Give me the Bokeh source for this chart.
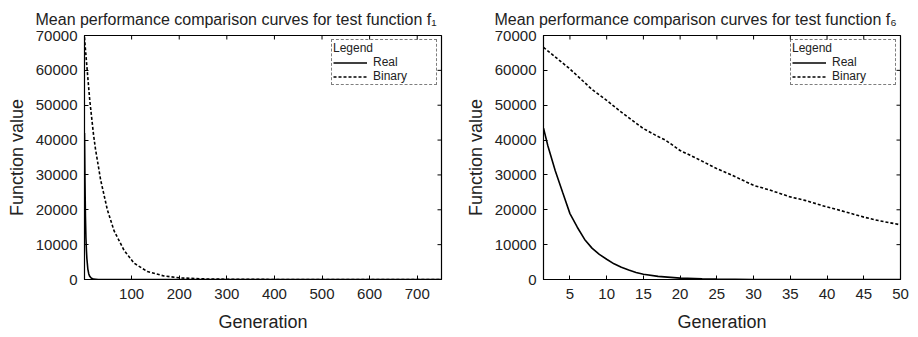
import math
from bokeh.plotting import figure
from bokeh.layouts import row
from bokeh.models import FixedTicker, Range1d, Legend, LegendItem
from bokeh.embed import file_html
from bokeh.resources import INLINE

# ---- data: f1 ----
f1_real_gen = [1, 2, 3, 4, 5, 6, 8, 10, 12, 15, 20, 30, 50, 100, 200, 400, 750]
f1_real_val = [42000, 28000, 18000, 12000, 8500, 6000, 3000, 1600, 900, 400, 100, 10, 0, 0, 0, 0, 0]
f1_bin_gen = [1, 3, 7, 12, 20, 24, 35, 49, 63, 84, 105, 133, 168, 203, 250, 300, 400, 500, 600, 750]
f1_bin_val = [69500, 66000, 59500, 51500, 41500, 37500, 28500, 20000, 14000, 8400, 4700, 2300, 1000, 450, 180, 70, 15, 3, 0, 0]

# ---- data: f6 ----
f6_real_gen = [1.4, 2, 3, 4, 5, 6, 7, 8, 9, 10, 11, 12, 13, 14, 15, 17, 20, 23, 25, 30, 35, 40, 45, 50]
f6_real_val = [43400, 38300, 31200, 25000, 18900, 15000, 11500, 9000, 7200, 5800, 4500, 3500, 2700, 2000, 1500, 900, 400, 180, 100, 20, 5, 0, 0, 0]
f6_bin_gen = [1.4, 5, 7, 8, 10, 12, 15, 17, 18, 20, 22, 25, 27, 30, 32, 35, 37, 40, 42, 45, 47, 50]
f6_bin_val = [66600, 60400, 56500, 54500, 51400, 48000, 43300, 41000, 40000, 37000, 35000, 31800, 30000, 27000, 25800, 23700, 22700, 20800, 19700, 17900, 16900, 15700]

y_ticks = [0, 10000, 20000, 30000, 40000, 50000, 60000, 70000]
f1_x_ticks = [100, 200, 300, 400, 500, 600, 700]
f6_x_ticks = [5, 10, 15, 20, 25, 30, 35, 40, 45, 50]

FONT = "Liberation Sans"
Y_MAX = 70000


def make_panel(title, xs_real, ys_real, xs_bin, ys_bin, xr, xticks):
    p = figure(width=459, height=337, output_backend="svg", toolbar_location=None,
               x_range=Range1d(*xr), y_range=Range1d(0, Y_MAX),
               min_border_left=84, min_border_right=18, min_border_top=35, min_border_bottom=58)
    p.title.text = title
    p.title.text_font = FONT
    p.title.text_font_size = "16px"
    p.title.text_font_style = "normal"
    p.title.text_color = "#222222"
    p.title.align = "left"
    p.title.offset = -49
    p.title.standoff = 15
    p.grid.visible = False
    p.outline_line_color = "black"
    p.outline_line_width = 1.2
    p.background_fill_color = "white"
    p.border_fill_color = "white"

    r1 = p.line(xs_real, ys_real, line_color="black", line_width=1.6)
    r2 = p.line(xs_bin, ys_bin, line_color="black", line_width=1.6, line_dash="3 2")

    for ax in (p.xaxis[0], p.yaxis[0]):
        ax.major_tick_in = 4
        ax.major_tick_out = 0
        ax.minor_tick_line_color = None
        ax.axis_line_color = "black"
        ax.major_label_text_font = FONT
        ax.major_label_text_font_size = "15px"
        ax.major_label_text_color = "#222222"
        ax.axis_label_text_font = FONT
        ax.axis_label_text_font_size = "18px"
        ax.axis_label_text_font_style = "normal"
        ax.axis_label_text_color = "#222222"
    p.xaxis[0].ticker = FixedTicker(ticks=xticks)
    p.yaxis[0].ticker = FixedTicker(ticks=y_ticks)
    p.xaxis[0].axis_label = "Generation"
    p.yaxis[0].axis_label = "Function value"
    p.xaxis[0].major_label_standoff = 9
    p.xaxis[0].axis_label_standoff = 10
    p.yaxis[0].major_label_standoff = 7
    p.yaxis[0].axis_label_standoff = 6

    # mirror ticks on top and right edges (inward)
    p.ray(x=xticks, y=[Y_MAX] * len(xticks), length=4, length_units="screen",
          angle=-math.pi / 2, line_color="black", line_width=1)
    p.ray(x=[xr[1]] * len(y_ticks), y=y_ticks, length=4, length_units="screen",
          angle=math.pi, line_color="black", line_width=1)

    legend = Legend(items=[LegendItem(label="Real", renderers=[r1]),
                           LegendItem(label="Binary", renderers=[r2])],
                    location="top_right", title="Legend")
    legend.title_text_font = FONT
    legend.title_text_font_size = "12px"
    legend.title_text_font_style = "normal"
    legend.title_text_color = "#222222"
    legend.title_standoff = 0
    legend.label_text_font = FONT
    legend.label_text_font_size = "12px"
    legend.label_text_color = "#222222"
    legend.label_height = 11
    legend.glyph_height = 11
    legend.glyph_width = 34
    legend.label_width = 62
    legend.label_standoff = 6
    legend.spacing = 0
    legend.padding = 1
    legend.margin = 4
    legend.border_line_color = "black"
    legend.border_line_dash = "1 1"
    legend.border_line_width = 1
    legend.background_fill_alpha = 0
    p.add_layout(legend)
    return p


p1 = make_panel("Mean performance comparison curves for test function f\u2081",
                f1_real_gen, f1_real_val, f1_bin_gen, f1_bin_val, (1, 751), f1_x_ticks)
p2 = make_panel("Mean performance comparison curves for test function f\u2086",
                f6_real_gen, f6_real_val, f6_bin_gen, f6_bin_val, (1.4, 50), f6_x_ticks)

layout = row(p1, p2)
open("out.html", "w").write(file_html(layout, INLINE))
